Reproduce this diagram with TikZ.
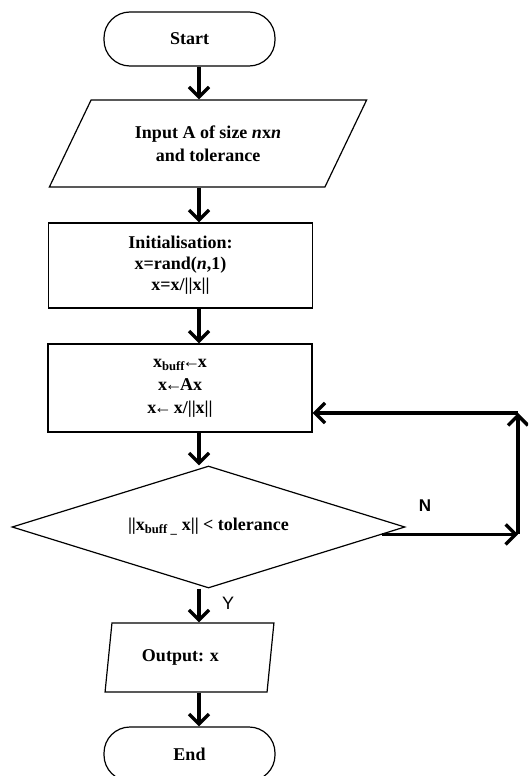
\documentclass[tikz,border=0pt]{standalone}
\usepackage{fontspec}
\setmainfont{Liberation Serif}
\newfontfamily\labelfont{Liberation Sans}
\usetikzlibrary{arrows.meta,shapes.geometric,calc}

\newcommand{\assign}{\kern-2.5pt←\kern-2.5pt}

\tikzset{
  flow/.style={draw=black, line width=1.2pt, align=center, inner sep=0pt,
    font=\fontsize{18}{23}\selectfont\bfseries},
  term/.style={flow, rectangle, rounded corners=26pt, minimum width=171pt, minimum height=54pt},
  proc/.style={flow, rectangle, minimum width=264pt},
  io/.style={flow, trapezium, trapezium stretches=true},
  decide/.style={flow, diamond, aspect=3.2, minimum width=393pt, minimum height=122pt},
  arr/.style={-{Straight Barb[length=10pt,width=20pt]}, line width=3.4pt},
}

\begin{document}
\begin{tikzpicture}[x=1pt, y=-1pt]
        \useasboundingbox (0,0) rectangle (528,776);
        \clip (0,0) rectangle (528,776);

        \coordinate (axis) at (199,0);
        \coordinate (rail) at (518,0);

        \node[term] (start) at (189.5,39) {Start};
        \node[io, trapezium left angle=54, trapezium right angle=126,
              minimum width=318pt, minimum height=87pt] (input) at (208,143.5)
              {Input A of size \textit{n}x\textit{n}\\and tolerance};
        \node[proc, minimum height=85pt] (init) at (180.5,265.5)
              {Initialisation:\\[-2pt]x=rand(\textit{n},1)\\[-2pt]x=x/||x||};
        \node[proc, minimum height=88pt] (upd) at (180,388)
              {x\textsubscript{buff}\assign x\\x\assign Ax\\x\assign\ x/||x||};
        \node[decide] (dec) at (208.5,527) {||x\textsubscript{buff \_} x|| < tolerance};
        \node[io, trapezium left angle=75, trapezium right angle=105,
              minimum width=169pt, minimum height=69pt] (out) at (189.5,657.5)
              {Output: x\hspace*{18pt}};
        \node[term] (end) at (189.5,754) {End};

        \node[font=\labelfont\bfseries\fontsize{17}{17}\selectfont] (nlab) at (425,506) {N};
        \node[font=\labelfont\fontsize{18}{18}\selectfont] (ylab) at (228,603) {Y};

        % main column
        \draw[arr] (start.south -| axis) -- (input.north -| axis);
        \draw[arr] (input.south -| axis) -- (init.north -| axis);
        \draw[arr] (init.south -| axis) -- (upd.north -| axis);
        \draw[arr] (upd.south -| axis) -- (dec.north -| axis);
        \draw[arr] (dec.south -| axis) -- (out.north -| axis);
        \draw[arr] (out.south -| axis) -- (end.north -| axis);

        % loop back on N
        \coordinate (nS) at ($(dec.east)!0.12!(dec.south)$);
        \coordinate (nE) at (nS -| rail);
        \coordinate (nT) at (rail |- 0,413);
        \draw[arr] (nS) -- (nE);
        \draw[arr] (nE) -- (nT);
        \draw[arr] (nT) -- (upd.east |- nT);

        \end{tikzpicture}
\end{document}
